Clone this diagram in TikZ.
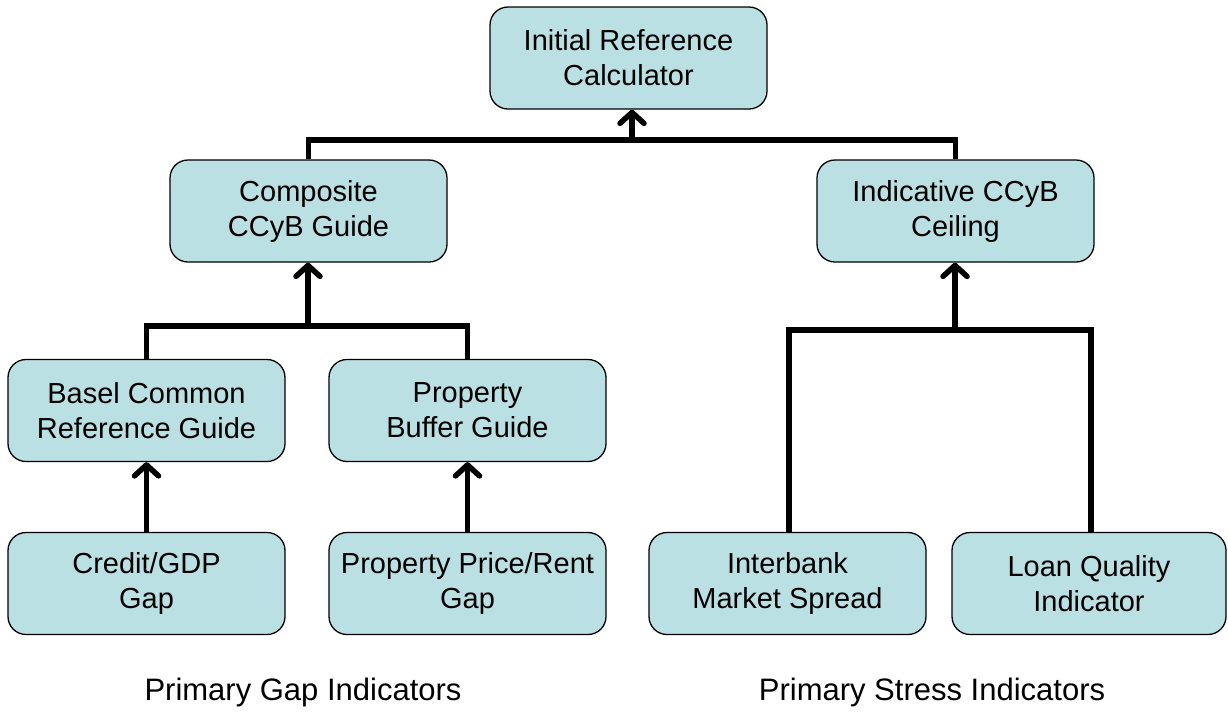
\documentclass[tikz,border=0pt]{standalone}
\usepackage{fontspec}
\setmainfont{Liberation Sans}
\usetikzlibrary{arrows.meta}
\definecolor{boxfill}{HTML}{BBE0E3}
\tikzset{
  box/.style={draw=black, line width=1.3pt, fill=boxfill, rounded corners=18pt,
    minimum width=277pt, minimum height=102pt, inner sep=0pt, align=center,
    font=\fontsize{29}{35}\selectfont},
  link/.style={line width=5.5pt, line join=miter},
  arr/.style={line width=5.5pt, -{Straight Barb[length=11pt, width=24pt, line cap=round, line join=round]}},
  caption/.style={font=\fontsize{31}{37}\selectfont, inner sep=0pt}
}
\begin{document}
\begin{tikzpicture}[x=1pt,y=-1pt]
\useasboundingbox (0,0) rectangle (1228,713);
\coordinate (j0) at (632,140);
\coordinate (j1) at (308,326);
\coordinate (j2) at (955,330);
\node[box] (top) at (628.5,58) {Initial Reference\\Calculator};
\node[box] (comp) at (308.5,211) {Composite\\CCyB Guide};
\node[box] (ind) at (955.5,211) {Indicative CCyB\\Ceiling};
\node[box] (basel) at (146.5,410.5) {Basel Common\\Reference Guide};
\node[box] (pbg) at (467.5,410.5) {Property\\Buffer Guide};
\node[box] (cgdp) at (146.5,583.5) {Credit/GDP\\Gap};
\node[box] (ppr) at (467.5,583.5) {Property Price/Rent\\Gap};
\node[box] (ims) at (787.5,583.5) {Interbank\\Market Spread};
\node[box, minimum width=274pt] (lqi) at (1089,583.5) {Loan Quality\\Indicator};
\draw[link] (comp.north) |- (j0) -| (ind.north);
\draw[arr] (j0) -- (top.south -| j0);
\draw[link] (basel.north) |- (j1) -| (pbg.north);
\draw[arr] (j1) -- (comp.south -| j1);
\draw[link] (ims.north -| 789,0) |- (j2) -| (lqi.north -| 1091,0);
\draw[arr] (j2) -- (ind.south -| j2);
\draw[arr] (cgdp.north) -- (basel.south);
\draw[arr] (ppr.north) -- (pbg.south);
\node[caption] (cap1) at (303,692) {Primary Gap Indicators};
\node[caption] (cap2) at (932,692) {Primary Stress Indicators};
\end{tikzpicture}
\end{document}
